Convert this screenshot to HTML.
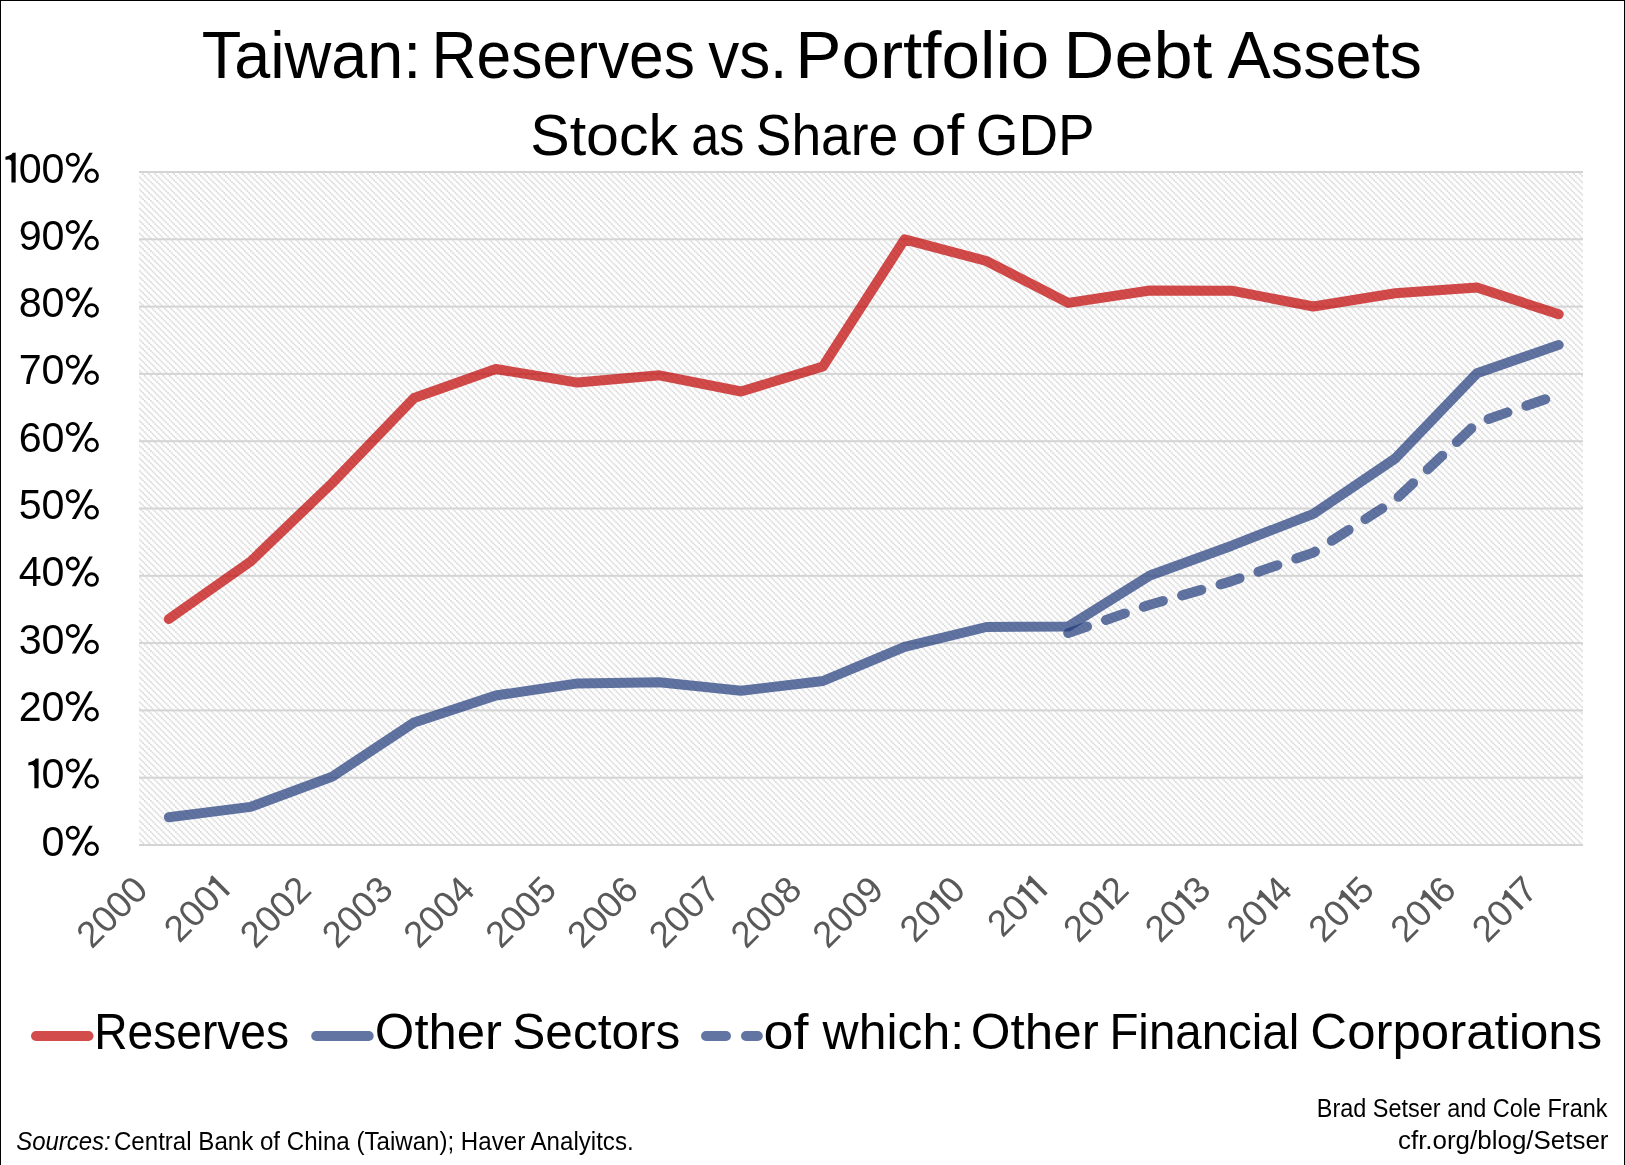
<!DOCTYPE html>
<html><head><meta charset="utf-8"><style>
html,body{margin:0;padding:0;background:#fff;}
body{width:1625px;height:1165px;position:relative;overflow:hidden;}
svg{position:absolute;left:0;top:0;font-family:"Liberation Sans",sans-serif;will-change:transform;}
</style></head><body>
<svg width="1625" height="1165" viewBox="0 0 1625 1165">
<defs><pattern id="hatch" patternUnits="userSpaceOnUse" width="6.25" height="6.25" x="0" y="0">
<g fill="#d4d4d4">
<rect x="0.0000" y="0.0000" width="1.5625" height="1.5625"/><rect x="1.5625" y="1.5625" width="1.5625" height="1.5625"/><rect x="3.1250" y="3.1250" width="1.5625" height="1.5625"/><rect x="4.6875" y="4.6875" width="1.5625" height="1.5625"/>
</g></pattern></defs>
<rect x="0" y="0" width="1625" height="1165" fill="#fff"/>
<rect x="139" y="172" width="1444" height="673" fill="url(#hatch)"/>
<g fill="#d4d4d4"><rect x="139" y="844.00" width="1444" height="2"/><rect x="139" y="776.70" width="1444" height="2"/><rect x="139" y="709.40" width="1444" height="2"/><rect x="139" y="642.10" width="1444" height="2"/><rect x="139" y="574.80" width="1444" height="2"/><rect x="139" y="507.50" width="1444" height="2"/><rect x="139" y="440.20" width="1444" height="2"/><rect x="139" y="372.90" width="1444" height="2"/><rect x="139" y="305.60" width="1444" height="2"/><rect x="139" y="238.30" width="1444" height="2"/><rect x="139" y="171.00" width="1444" height="2"/></g>
<g fill="none" stroke-linecap="round" stroke-linejoin="round" stroke-width="10">
<polyline points="168.8,619.0 250.6,561.5 332.3,483.0 414.1,398.0 495.8,369.0 577.6,382.6 659.4,375.3 741.1,391.5 822.9,366.5 904.6,239.4 986.4,261.0 1068.2,302.9 1149.9,290.5 1231.7,290.7 1313.4,306.5 1395.2,293.2 1477.0,287.6 1558.7,314.2" stroke="#c00000" stroke-opacity="0.7"/>
<polyline points="168.8,817.2 250.6,806.9 332.3,776.6 414.1,722.5 495.8,695.5 577.6,683.4 659.4,682.2 741.1,690.8 822.9,681.0 904.6,646.9 986.4,627.0 1068.2,626.5 1149.9,575.5 1231.7,545.7 1313.4,513.8 1395.2,458.5 1477.0,373.2 1558.7,344.9" stroke="#1f3a7a" stroke-opacity="0.7"/>
<polyline points="1068.2,633.1 1149.9,604.7 1231.7,581.1 1313.4,552.6 1395.2,500.0 1477.0,423.0 1558.7,394.5" stroke="#1f3a7a" stroke-opacity="0.7" stroke-dasharray="20 20" stroke-dashoffset="0"/>
</g>
<g stroke-linecap="round" stroke-width="10" stroke-opacity="0.7">
<line x1="36" y1="1036" x2="88.5" y2="1036" stroke="#c00000"/>
<line x1="316.2" y1="1036" x2="368.7" y2="1036" stroke="#1f3a7a"/>
<line x1="706" y1="1036" x2="726" y2="1036" stroke="#1f3a7a"/>
<line x1="746" y1="1036" x2="757.8" y2="1036" stroke="#1f3a7a"/>
</g>
<g fill="#000">
<text x="201.82" y="78.3" font-size="66.3" textLength="219.43" lengthAdjust="spacingAndGlyphs">Taiwan:</text><text x="431.49" y="78.3" font-size="66.3" textLength="263.54" lengthAdjust="spacingAndGlyphs">Reserves</text><text x="708.2" y="78.3" font-size="66.3" textLength="79.14" lengthAdjust="spacingAndGlyphs">vs.</text><text x="795.38" y="78.3" font-size="66.3" textLength="253.88" lengthAdjust="spacingAndGlyphs">Portfolio</text><text x="1063.59" y="78.3" font-size="66.3" textLength="148.62" lengthAdjust="spacingAndGlyphs">Debt</text><text x="1227.6" y="78.3" font-size="66.3" textLength="194.4" lengthAdjust="spacingAndGlyphs">Assets</text><text x="530.21" y="154.5" font-size="57.5" textLength="147.92" lengthAdjust="spacingAndGlyphs">Stock</text><text x="691.25" y="154.5" font-size="57.5" textLength="53.06" lengthAdjust="spacingAndGlyphs">as</text><text x="755.81" y="154.5" font-size="57.5" textLength="142.45" lengthAdjust="spacingAndGlyphs">Share</text><text x="911.08" y="154.5" font-size="57.5" textLength="53.18" lengthAdjust="spacingAndGlyphs">of</text><text x="975.84" y="154.5" font-size="57.5" textLength="118.85" lengthAdjust="spacingAndGlyphs">GDP</text><text x="94.19" y="1048.7" font-size="49.8" textLength="194.84" lengthAdjust="spacingAndGlyphs">Reserves</text><text x="374.86" y="1048.7" font-size="49.8" textLength="127.2" lengthAdjust="spacingAndGlyphs">Other</text><text x="512.31" y="1048.7" font-size="49.8" textLength="168.0" lengthAdjust="spacingAndGlyphs">Sectors</text><text x="763.54" y="1048.7" font-size="49.8" textLength="44.96" lengthAdjust="spacingAndGlyphs">of</text><text x="822.6" y="1048.7" font-size="49.8" textLength="141.47" lengthAdjust="spacingAndGlyphs">which:</text><text x="970.85" y="1048.7" font-size="49.8" textLength="127.81" lengthAdjust="spacingAndGlyphs">Other</text><text x="1109.39" y="1048.7" font-size="49.8" textLength="189.95" lengthAdjust="spacingAndGlyphs">Financial</text><text x="1310.33" y="1048.7" font-size="49.8" textLength="291.81" lengthAdjust="spacingAndGlyphs">Corporations</text><text x="16.24" y="1149.5" font-size="25" textLength="94.5" lengthAdjust="spacingAndGlyphs" font-style="italic">Sources:</text><text x="113.94" y="1149.5" font-size="25" textLength="519.71" lengthAdjust="spacingAndGlyphs">Central Bank of China (Taiwan); Haver Analyitcs.</text><text x="1316.82" y="1116.8" font-size="25" textLength="290.67" lengthAdjust="spacingAndGlyphs">Brad Setser and Cole Frank</text><text x="1397.96" y="1149.2" font-size="25" textLength="210.56" lengthAdjust="spacingAndGlyphs">cfr.org/blog/Setser</text>
<g transform="translate(99.00,855.50)"><g><ellipse cx="-26.2" cy="-22.7" rx="5.6" ry="5.6" fill="none" stroke="#000" stroke-width="2.8"/><ellipse cx="-7.3" cy="-6.7" rx="5.8" ry="5.85" fill="none" stroke="#000" stroke-width="2.8"/><path d="M-27.2,0 L-23.1,0 L-6.2,-29.7 L-9.8,-29.7 Z"/></g><g transform="translate(-34.5,0) scale(0.957,1)"><text x="-23.96" y="0" font-size="43.1">0</text></g></g><g transform="translate(99.00,788.20)"><g><ellipse cx="-26.2" cy="-22.7" rx="5.6" ry="5.6" fill="none" stroke="#000" stroke-width="2.8"/><ellipse cx="-7.3" cy="-6.7" rx="5.8" ry="5.85" fill="none" stroke="#000" stroke-width="2.8"/><path d="M-27.2,0 L-23.1,0 L-6.2,-29.7 L-9.8,-29.7 Z"/></g><g transform="translate(-34.5,0) scale(0.957,1)"><path transform="translate(-39.48,0) scale(43.1)" d="M0.288,0 L0.288,-0.688 L0.218,-0.688 C0.19,-0.64 0.12,-0.61 0.04,-0.598 L0.04,-0.527 C0.10,-0.535 0.16,-0.555 0.185,-0.48 L0.185,0 Z"/><text x="-23.96" y="0" font-size="43.1">0</text></g></g><g transform="translate(99.00,720.90)"><g><ellipse cx="-26.2" cy="-22.7" rx="5.6" ry="5.6" fill="none" stroke="#000" stroke-width="2.8"/><ellipse cx="-7.3" cy="-6.7" rx="5.8" ry="5.85" fill="none" stroke="#000" stroke-width="2.8"/><path d="M-27.2,0 L-23.1,0 L-6.2,-29.7 L-9.8,-29.7 Z"/></g><g transform="translate(-34.5,0) scale(0.957,1)"><text x="-47.93" y="0" font-size="43.1">2</text><text x="-23.96" y="0" font-size="43.1">0</text></g></g><g transform="translate(99.00,653.60)"><g><ellipse cx="-26.2" cy="-22.7" rx="5.6" ry="5.6" fill="none" stroke="#000" stroke-width="2.8"/><ellipse cx="-7.3" cy="-6.7" rx="5.8" ry="5.85" fill="none" stroke="#000" stroke-width="2.8"/><path d="M-27.2,0 L-23.1,0 L-6.2,-29.7 L-9.8,-29.7 Z"/></g><g transform="translate(-34.5,0) scale(0.957,1)"><text x="-47.93" y="0" font-size="43.1">3</text><text x="-23.96" y="0" font-size="43.1">0</text></g></g><g transform="translate(99.00,586.30)"><g><ellipse cx="-26.2" cy="-22.7" rx="5.6" ry="5.6" fill="none" stroke="#000" stroke-width="2.8"/><ellipse cx="-7.3" cy="-6.7" rx="5.8" ry="5.85" fill="none" stroke="#000" stroke-width="2.8"/><path d="M-27.2,0 L-23.1,0 L-6.2,-29.7 L-9.8,-29.7 Z"/></g><g transform="translate(-34.5,0) scale(0.957,1)"><text x="-47.93" y="0" font-size="43.1">4</text><text x="-23.96" y="0" font-size="43.1">0</text></g></g><g transform="translate(99.00,519.00)"><g><ellipse cx="-26.2" cy="-22.7" rx="5.6" ry="5.6" fill="none" stroke="#000" stroke-width="2.8"/><ellipse cx="-7.3" cy="-6.7" rx="5.8" ry="5.85" fill="none" stroke="#000" stroke-width="2.8"/><path d="M-27.2,0 L-23.1,0 L-6.2,-29.7 L-9.8,-29.7 Z"/></g><g transform="translate(-34.5,0) scale(0.957,1)"><text x="-47.93" y="0" font-size="43.1">5</text><text x="-23.96" y="0" font-size="43.1">0</text></g></g><g transform="translate(99.00,451.70)"><g><ellipse cx="-26.2" cy="-22.7" rx="5.6" ry="5.6" fill="none" stroke="#000" stroke-width="2.8"/><ellipse cx="-7.3" cy="-6.7" rx="5.8" ry="5.85" fill="none" stroke="#000" stroke-width="2.8"/><path d="M-27.2,0 L-23.1,0 L-6.2,-29.7 L-9.8,-29.7 Z"/></g><g transform="translate(-34.5,0) scale(0.957,1)"><text x="-47.93" y="0" font-size="43.1">6</text><text x="-23.96" y="0" font-size="43.1">0</text></g></g><g transform="translate(99.00,384.40)"><g><ellipse cx="-26.2" cy="-22.7" rx="5.6" ry="5.6" fill="none" stroke="#000" stroke-width="2.8"/><ellipse cx="-7.3" cy="-6.7" rx="5.8" ry="5.85" fill="none" stroke="#000" stroke-width="2.8"/><path d="M-27.2,0 L-23.1,0 L-6.2,-29.7 L-9.8,-29.7 Z"/></g><g transform="translate(-34.5,0) scale(0.957,1)"><text x="-47.93" y="0" font-size="43.1">7</text><text x="-23.96" y="0" font-size="43.1">0</text></g></g><g transform="translate(99.00,317.10)"><g><ellipse cx="-26.2" cy="-22.7" rx="5.6" ry="5.6" fill="none" stroke="#000" stroke-width="2.8"/><ellipse cx="-7.3" cy="-6.7" rx="5.8" ry="5.85" fill="none" stroke="#000" stroke-width="2.8"/><path d="M-27.2,0 L-23.1,0 L-6.2,-29.7 L-9.8,-29.7 Z"/></g><g transform="translate(-34.5,0) scale(0.957,1)"><text x="-47.93" y="0" font-size="43.1">8</text><text x="-23.96" y="0" font-size="43.1">0</text></g></g><g transform="translate(99.00,249.80)"><g><ellipse cx="-26.2" cy="-22.7" rx="5.6" ry="5.6" fill="none" stroke="#000" stroke-width="2.8"/><ellipse cx="-7.3" cy="-6.7" rx="5.8" ry="5.85" fill="none" stroke="#000" stroke-width="2.8"/><path d="M-27.2,0 L-23.1,0 L-6.2,-29.7 L-9.8,-29.7 Z"/></g><g transform="translate(-34.5,0) scale(0.957,1)"><text x="-47.93" y="0" font-size="43.1">9</text><text x="-23.96" y="0" font-size="43.1">0</text></g></g><g transform="translate(99.00,182.50)"><g><ellipse cx="-26.2" cy="-22.7" rx="5.6" ry="5.6" fill="none" stroke="#000" stroke-width="2.8"/><ellipse cx="-7.3" cy="-6.7" rx="5.8" ry="5.85" fill="none" stroke="#000" stroke-width="2.8"/><path d="M-27.2,0 L-23.1,0 L-6.2,-29.7 L-9.8,-29.7 Z"/></g><g transform="translate(-34.5,0) scale(0.957,1)"><path transform="translate(-63.44,0) scale(43.1)" d="M0.288,0 L0.288,-0.688 L0.218,-0.688 C0.19,-0.64 0.12,-0.61 0.04,-0.598 L0.04,-0.527 C0.10,-0.535 0.16,-0.555 0.185,-0.48 L0.185,0 Z"/><text x="-47.93" y="0" font-size="43.1">0</text><text x="-23.96" y="0" font-size="43.1">0</text></g></g>
</g>
<g fill="#595959"><g transform="translate(149.7,891.8) rotate(-45)"><text x="-81.84" y="0" font-size="36.8">2</text><text x="-61.38" y="0" font-size="36.8">0</text><text x="-40.92" y="0" font-size="36.8">0</text><text x="-20.46" y="0" font-size="36.8">0</text></g><g transform="translate(231.5,891.8) rotate(-45)"><text x="-73.89" y="0" font-size="36.8">2</text><text x="-53.43" y="0" font-size="36.8">0</text><text x="-32.97" y="0" font-size="36.8">0</text><path transform="translate(-12.51,0) scale(36.8)" d="M0.288,0 L0.288,-0.688 L0.218,-0.688 C0.19,-0.64 0.12,-0.61 0.04,-0.598 L0.04,-0.527 C0.10,-0.535 0.16,-0.555 0.185,-0.48 L0.185,0 Z"/></g><g transform="translate(313.2,891.8) rotate(-45)"><text x="-81.84" y="0" font-size="36.8">2</text><text x="-61.38" y="0" font-size="36.8">0</text><text x="-40.92" y="0" font-size="36.8">0</text><text x="-20.46" y="0" font-size="36.8">2</text></g><g transform="translate(395.0,891.8) rotate(-45)"><text x="-81.84" y="0" font-size="36.8">2</text><text x="-61.38" y="0" font-size="36.8">0</text><text x="-40.92" y="0" font-size="36.8">0</text><text x="-20.46" y="0" font-size="36.8">3</text></g><g transform="translate(476.7,891.8) rotate(-45)"><text x="-81.84" y="0" font-size="36.8">2</text><text x="-61.38" y="0" font-size="36.8">0</text><text x="-40.92" y="0" font-size="36.8">0</text><text x="-20.46" y="0" font-size="36.8">4</text></g><g transform="translate(558.5,891.8) rotate(-45)"><text x="-81.84" y="0" font-size="36.8">2</text><text x="-61.38" y="0" font-size="36.8">0</text><text x="-40.92" y="0" font-size="36.8">0</text><text x="-20.46" y="0" font-size="36.8">5</text></g><g transform="translate(640.3,891.8) rotate(-45)"><text x="-81.84" y="0" font-size="36.8">2</text><text x="-61.38" y="0" font-size="36.8">0</text><text x="-40.92" y="0" font-size="36.8">0</text><text x="-20.46" y="0" font-size="36.8">6</text></g><g transform="translate(722.0,891.8) rotate(-45)"><text x="-81.84" y="0" font-size="36.8">2</text><text x="-61.38" y="0" font-size="36.8">0</text><text x="-40.92" y="0" font-size="36.8">0</text><text x="-20.46" y="0" font-size="36.8">7</text></g><g transform="translate(803.8,891.8) rotate(-45)"><text x="-81.84" y="0" font-size="36.8">2</text><text x="-61.38" y="0" font-size="36.8">0</text><text x="-40.92" y="0" font-size="36.8">0</text><text x="-20.46" y="0" font-size="36.8">8</text></g><g transform="translate(885.5,891.8) rotate(-45)"><text x="-81.84" y="0" font-size="36.8">2</text><text x="-61.38" y="0" font-size="36.8">0</text><text x="-40.92" y="0" font-size="36.8">0</text><text x="-20.46" y="0" font-size="36.8">9</text></g><g transform="translate(967.3,891.8) rotate(-45)"><text x="-73.89" y="0" font-size="36.8">2</text><text x="-53.43" y="0" font-size="36.8">0</text><path transform="translate(-32.97,0) scale(36.8)" d="M0.288,0 L0.288,-0.688 L0.218,-0.688 C0.19,-0.64 0.12,-0.61 0.04,-0.598 L0.04,-0.527 C0.10,-0.535 0.16,-0.555 0.185,-0.48 L0.185,0 Z"/><text x="-20.46" y="0" font-size="36.8">0</text></g><g transform="translate(1049.1,891.8) rotate(-45)"><text x="-65.95" y="0" font-size="36.8">2</text><text x="-45.48" y="0" font-size="36.8">0</text><path transform="translate(-25.02,0) scale(36.8)" d="M0.288,0 L0.288,-0.688 L0.218,-0.688 C0.19,-0.64 0.12,-0.61 0.04,-0.598 L0.04,-0.527 C0.10,-0.535 0.16,-0.555 0.185,-0.48 L0.185,0 Z"/><path transform="translate(-12.51,0) scale(36.8)" d="M0.288,0 L0.288,-0.688 L0.218,-0.688 C0.19,-0.64 0.12,-0.61 0.04,-0.598 L0.04,-0.527 C0.10,-0.535 0.16,-0.555 0.185,-0.48 L0.185,0 Z"/></g><g transform="translate(1130.8,891.8) rotate(-45)"><text x="-73.89" y="0" font-size="36.8">2</text><text x="-53.43" y="0" font-size="36.8">0</text><path transform="translate(-32.97,0) scale(36.8)" d="M0.288,0 L0.288,-0.688 L0.218,-0.688 C0.19,-0.64 0.12,-0.61 0.04,-0.598 L0.04,-0.527 C0.10,-0.535 0.16,-0.555 0.185,-0.48 L0.185,0 Z"/><text x="-20.46" y="0" font-size="36.8">2</text></g><g transform="translate(1212.6,891.8) rotate(-45)"><text x="-73.89" y="0" font-size="36.8">2</text><text x="-53.43" y="0" font-size="36.8">0</text><path transform="translate(-32.97,0) scale(36.8)" d="M0.288,0 L0.288,-0.688 L0.218,-0.688 C0.19,-0.64 0.12,-0.61 0.04,-0.598 L0.04,-0.527 C0.10,-0.535 0.16,-0.555 0.185,-0.48 L0.185,0 Z"/><text x="-20.46" y="0" font-size="36.8">3</text></g><g transform="translate(1294.3,891.8) rotate(-45)"><text x="-73.89" y="0" font-size="36.8">2</text><text x="-53.43" y="0" font-size="36.8">0</text><path transform="translate(-32.97,0) scale(36.8)" d="M0.288,0 L0.288,-0.688 L0.218,-0.688 C0.19,-0.64 0.12,-0.61 0.04,-0.598 L0.04,-0.527 C0.10,-0.535 0.16,-0.555 0.185,-0.48 L0.185,0 Z"/><text x="-20.46" y="0" font-size="36.8">4</text></g><g transform="translate(1376.1,891.8) rotate(-45)"><text x="-73.89" y="0" font-size="36.8">2</text><text x="-53.43" y="0" font-size="36.8">0</text><path transform="translate(-32.97,0) scale(36.8)" d="M0.288,0 L0.288,-0.688 L0.218,-0.688 C0.19,-0.64 0.12,-0.61 0.04,-0.598 L0.04,-0.527 C0.10,-0.535 0.16,-0.555 0.185,-0.48 L0.185,0 Z"/><text x="-20.46" y="0" font-size="36.8">5</text></g><g transform="translate(1457.9,891.8) rotate(-45)"><text x="-73.89" y="0" font-size="36.8">2</text><text x="-53.43" y="0" font-size="36.8">0</text><path transform="translate(-32.97,0) scale(36.8)" d="M0.288,0 L0.288,-0.688 L0.218,-0.688 C0.19,-0.64 0.12,-0.61 0.04,-0.598 L0.04,-0.527 C0.10,-0.535 0.16,-0.555 0.185,-0.48 L0.185,0 Z"/><text x="-20.46" y="0" font-size="36.8">6</text></g><g transform="translate(1539.6,891.8) rotate(-45)"><text x="-73.89" y="0" font-size="36.8">2</text><text x="-53.43" y="0" font-size="36.8">0</text><path transform="translate(-32.97,0) scale(36.8)" d="M0.288,0 L0.288,-0.688 L0.218,-0.688 C0.19,-0.64 0.12,-0.61 0.04,-0.598 L0.04,-0.527 C0.10,-0.535 0.16,-0.555 0.185,-0.48 L0.185,0 Z"/><text x="-20.46" y="0" font-size="36.8">7</text></g></g>
<rect x="0.5" y="0.5" width="1624" height="1170" fill="none" stroke="#000" stroke-width="1"/>
</svg>
</body></html>
